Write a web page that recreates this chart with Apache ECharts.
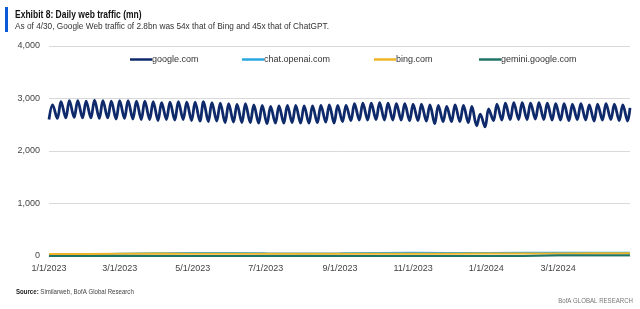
<!DOCTYPE html>
<html>
<head>
<meta charset="utf-8">
<script src="https://cdn.jsdelivr.net/npm/echarts@6/dist/echarts.min.js"></script>
<style>
html,body{margin:0;padding:0;background:#fff;}
#c{width:640px;height:309px;}
</style>
</head>
<body>
<div id="c"></div>
<script>
// ---- data (mn daily visits) ----
var seriesNames = ['google.com', 'chat.openai.com', 'bing.com', 'gemini.google.com'];
var tickLabels = ['1/1/2023', '3/1/2023', '5/1/2023', '7/1/2023', '9/1/2023', '11/1/2023', '1/1/2024', '3/1/2024'];
var yTicks = [0, 1000, 2000, 3000, 4000];

// google.com: weekly Sunday lows (from Sun 1/1/2023, 70 weeks)
var googleSundayLows = [
  2600, 2620, 2630, 2640, 2630, 2630, 2620, 2630, 2610,
  2620, 2610, 2600, 2600, 2580, 2600, 2590, 2600,
  2580, 2570, 2560, 2570, 2540, 2550, 2540, 2540, 2530,
  2520, 2530, 2530, 2540, 2530, 2530, 2540, 2550, 2530,
  2560, 2580, 2590, 2590, 2600, 2590, 2590, 2590,
  2580, 2580, 2570, 2520, 2560, 2560, 2560, 2540,
  2480, 2460, 2580, 2590, 2600,
  2600, 2600, 2610, 2600, 2590, 2590, 2580, 2600, 2590, 2570, 2590, 2600, 2580, 2570
];
// google.com: weekly mid-week highs (from Wed 1/4/2023, 69 weeks)
var googleWeekdayHighs = [
  2880, 2940, 2960, 2960, 2950, 2970, 2960, 2950, 2960,
  2960, 2950, 2950, 2940, 2920, 2930, 2940, 2930,
  2930, 2940, 2920, 2910, 2900, 2890, 2900, 2880, 2870,
  2850, 2860, 2870, 2870, 2860, 2860, 2870, 2880, 2870,
  2870, 2900, 2910, 2910, 2920, 2910, 2900, 2900,
  2890, 2890, 2880, 2870, 2850, 2880, 2870, 2850,
  2700, 2800, 2890, 2910, 2920,
  2920, 2910, 2920, 2910, 2900, 2900, 2890, 2900, 2880, 2890, 2900, 2890, 2880
];
var googleLast = 2820; // 4/30/2024

// smaller sites: first of each month Jan 2023 .. Apr 2024, then 4/30/2024
var chatMonthly   = [20, 30, 42, 52, 58, 56, 52, 50, 52, 56, 60, 57, 58, 60, 61, 62, 62];
var bingMonthly   = [38, 40, 45, 46, 44, 43, 42, 42, 43, 44, 45, 44, 46, 48, 50, 51, 52];
var geminiMonthly = [0, 0, 0, 0, 0, 0, 0, 0, 0, 0, 0, 0, 0, 2, 12, 13, 14];

// ---- helpers: x is days since 1/1/2023 ----
var DAY = 86400000;
var T0 = Date.UTC(2023, 0, 1);
function dayNo(y, m, day) { return Math.round((Date.UTC(y, m, day) - T0) / DAY); }
function dateStr(n) {
  var t = new Date(T0 + n * DAY);
  return (t.getUTCMonth() + 1) + '/' + t.getUTCDate() + '/' + t.getUTCFullYear();
}
var googleData = [];
for (var k = 0; k < googleSundayLows.length; k++) {
  googleData.push([dayNo(2023, 0, 1 + 7 * k), googleSundayLows[k]]);
  if (k < googleWeekdayHighs.length) googleData.push([dayNo(2023, 0, 4 + 7 * k), googleWeekdayHighs[k]]);
}
googleData.push([dayNo(2024, 3, 30), googleLast]);

function monthly(arr) {
  var out = [];
  for (var i = 0; i < arr.length - 1; i++) out.push([dayNo(2023, i, 1), arr[i]]);
  out.push([dayNo(2024, 3, 30), arr[arr.length - 1]]);
  return out;
}
var tickValues = tickLabels.map(function (s) {
  var p = s.split('/');
  return dayNo(+p[2], +p[0] - 1, +p[1]);
});

var colors = ['#0f2a6b', '#2aa7df', '#f0b526', '#1f7468'];
var FONT = "'Liberation Sans', Arial, sans-serif";

var chart = echarts.init(document.getElementById('c'), null, {renderer: 'canvas'});
function legend(name, left) {
  return {
    data: [name], left: left, top: 50, icon: 'rect', itemWidth: 22, itemHeight: 2.5,
    itemGap: 0, textStyle: {fontFamily: FONT, fontSize: 9, color: '#333', padding: [0, 0, 0, -5]},
    selectedMode: false
  };
}
function txt(x, y, text, font, fill, sx, align) {
  return {type: 'text', x: x, y: y, scaleX: sx, scaleY: 1,
    style: {text: text, font: font, fill: fill, textAlign: align || 'left', textVerticalAlign: 'middle'}};
}
chart.setOption({
  animation: false,
  color: colors,
  textStyle: {fontFamily: FONT},
  legend: [legend(seriesNames[0], 125), legend(seriesNames[1], 237), legend(seriesNames[2], 369), legend(seriesNames[3], 474)],
  grid: {left: 49, right: 10, top: 46, bottom: 53, containLabel: false},
  xAxis: {
    type: 'value',
    min: 0, max: dayNo(2024, 3, 30),
    splitLine: {show: false},
    axisTick: {show: false},
    axisLine: {show: true, lineStyle: {color: '#d9d9d9'}},
    axisLabel: {
      customValues: tickValues,
      fontSize: 9, color: '#444', margin: 8, fontFamily: FONT,
      formatter: function (v) { return dateStr(v); }
    }
  },
  yAxis: {
    type: 'value', min: 0, max: 4000, interval: 1000,
    axisLine: {show: false}, axisTick: {show: false},
    splitLine: {lineStyle: {color: '#d9d9d9', width: 1}},
    axisLabel: {fontSize: 9, color: '#444', margin: 9, fontFamily: FONT,
      formatter: function (v) { return v === 0 ? '0' : v.toLocaleString('en-US'); }}
  },
  series: [
    {name: seriesNames[0], type: 'line', data: googleData, showSymbol: false, smooth: 0.35,
     lineStyle: {width: 2.8, color: colors[0]}},
    {name: seriesNames[1], type: 'line', data: monthly(chatMonthly), showSymbol: false,
     lineStyle: {width: 2, color: colors[1]}},
    {name: seriesNames[2], type: 'line', data: monthly(bingMonthly), showSymbol: false,
     lineStyle: {width: 2, color: colors[2]}},
    {name: seriesNames[3], type: 'line', data: monthly(geminiMonthly), showSymbol: false,
     lineStyle: {width: 2, color: colors[3]}}
  ],
  graphic: [
    {type: 'rect', shape: {x: 5, y: 7, width: 3, height: 25}, style: {fill: '#0a5bd6'}},
    txt(15, 15, 'Exhibit 8: Daily web traffic (mn)', 'bold 10px ' + FONT, '#111', 0.85),
    txt(15, 26, 'As of 4/30, Google Web traffic of 2.8bn was 54x that of Bing and 45x that of ChatGPT.', '9.5px ' + FONT, '#333', 0.87),
    {type: 'text', x: 16, y: 292, scaleX: 0.87, style: {
      text: '{b|Source:} Similarweb, BofA Global Research',
      font: '7px ' + FONT, fill: '#444', textVerticalAlign: 'middle',
      rich: {b: {fontWeight: 'bold', fontSize: 7, fontFamily: FONT, fill: '#222'}}
    }},
    txt(633, 301, 'BofA GLOBAL RESEARCH', '7px ' + FONT, '#777', 0.87, 'right')
  ]
});
</script>
</body>
</html>
